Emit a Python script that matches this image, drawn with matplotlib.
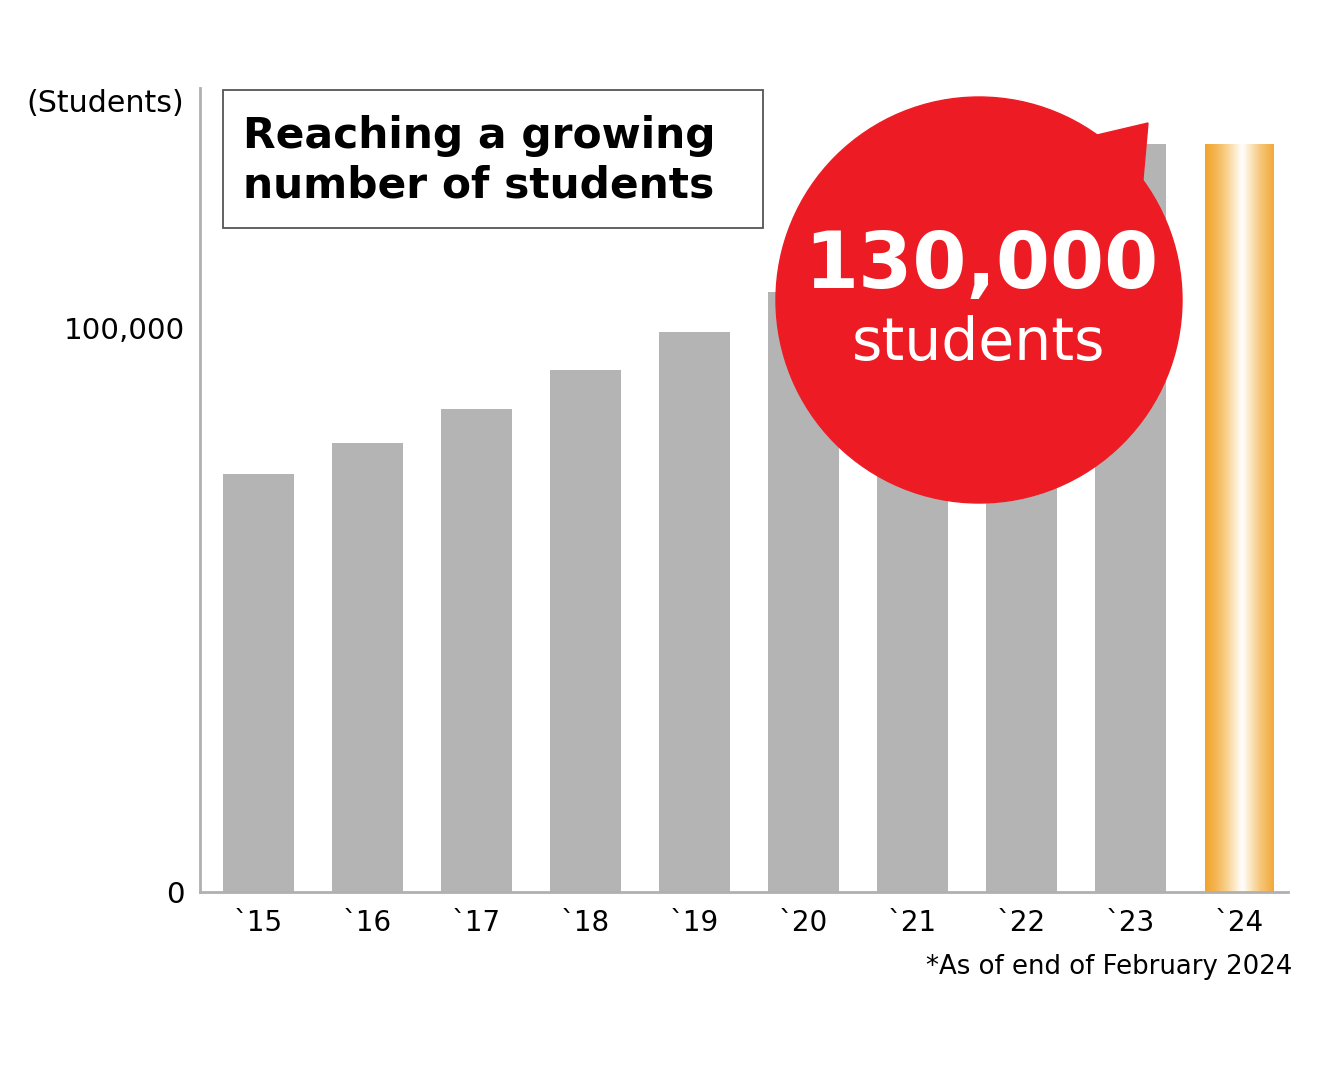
import matplotlib
matplotlib.use("Agg")
import matplotlib.pyplot as plt
import numpy as np
from matplotlib.patches import Circle, Polygon, Rectangle
from matplotlib.colors import LinearSegmentedColormap

# Données
annees = ["`15", "`16", "`17", "`18", "`19", "`20", "`21", "`22", "`23", "`24"]
etudiants = [74100, 79600, 85600, 92500, 99300, 106400, 114000, 122500, 132600, 132600]

titre = "Reaching a growing\nnumber of students"
bulle_nombre = "130,000"
bulle_texte = "students"
note = "*As of end of February 2024"

gris = "#b4b4b4"
rouge = "#ed1c24"

plt.rcParams['font.family'] = ['DejaVu Sans']

fig = plt.figure(figsize=(13.4, 10.8), dpi=100)
ax = fig.add_axes([0.1493, 0.1741, 0.8119, 0.7444])

x = np.arange(len(annees))
barres = ax.bar(x[:-1], etudiants[:-1], width=0.65, color=gris, zorder=2)

# derniere barre en degrade orange / blanc
b = ax.bar(x[-1], etudiants[-1], width=0.63, color="none", zorder=2)[0]
cmap = LinearSegmentedColormap.from_list(
    "or", [(0, "#f2a52a"), (0.15, "#f4b452"), (0.33, "#f9d494"), (0.47, "#fef1dc"),
           (0.54, "#ffffff"), (0.62, "#fdefd6"), (0.8, "#f6c77c"), (1, "#f2a83a")])
grad = np.linspace(0, 1, 256).reshape(1, -1)
im = ax.imshow(grad, cmap=cmap, aspect="auto", zorder=2,
               extent=[b.get_x(), b.get_x() + b.get_width(), 0, b.get_height()])
im.set_clip_path(b)

ax.set_xlim(-0.537, 9.445)
ax.set_ylim(0, 142500)
ax.set_xticks(x)
ax.set_xticklabels(annees, fontsize=20)
ax.set_yticks([0, 100000])
ax.set_yticklabels(["0", "100,000"], fontsize=21.2)
ax.tick_params(length=0, pad=12)
ax.tick_params(axis="y", pad=11)
for s in ["top", "right"]:
    ax.spines[s].set_visible(False)
for s in ["left", "bottom"]:
    ax.spines[s].set_color("#b0b0b0")
    ax.spines[s].set_linewidth(2)

fig.text(184 / 1340, 1 - 103 / 1080, "(Students)", fontsize=21.7, ha="right", va="center")
fig.text(1292 / 1340, 1 - 967 / 1080, note, fontsize=18.7, ha="right", va="center")

# encadre du titre
fig.patches.append(Rectangle((223 / 1340, 1 - 228 / 1080), 540 / 1340, 138 / 1080,
                             transform=fig.transFigure, fill=False, edgecolor="#555555",
                             linewidth=1.3, zorder=5))
fig.text(243 / 1340, 1 - 161 / 1080, titre, fontsize=30.5, fontweight="bold",
         ha="left", va="center", linespacing=1.24, zorder=6)

# bulle rouge
tr = fig.dpi_scale_trans
fig.patches.append(Circle((9.79, 7.80), 2.03, transform=tr, color=rouge, zorder=5))
fig.patches.append(Polygon([(10.97, 9.45), (11.48, 9.57), (11.42, 8.90)], closed=True,
                           transform=tr, color=rouge, zorder=5))
fig.text(981 / 1340, 1 - 266 / 1080, bulle_nombre, fontsize=56, fontweight="bold",
         color="white", ha="center", va="center", zorder=6)
fig.text(979 / 1340, 1 - 343 / 1080, bulle_texte, fontsize=42, color="white",
         ha="center", va="center", zorder=6)

fig.savefig("out.png", dpi=100)
